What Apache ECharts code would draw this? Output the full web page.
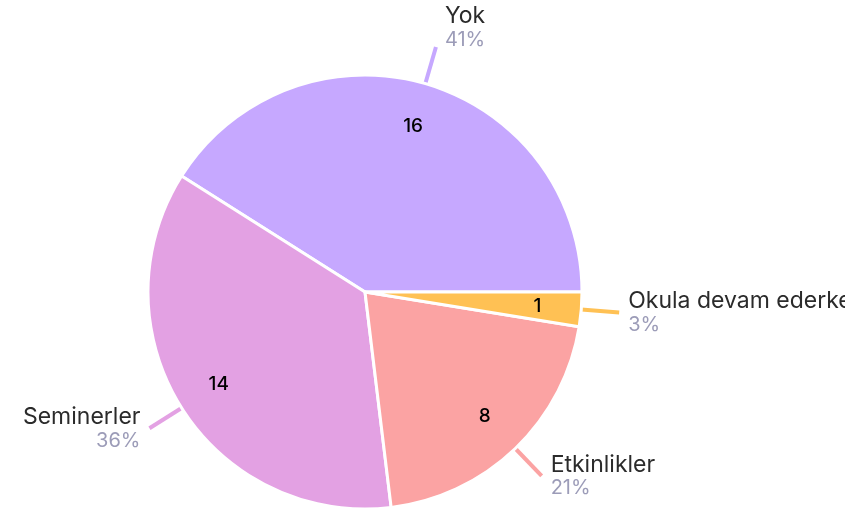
<!DOCTYPE html>
<html>
    <head>
        <meta charset="utf-8">
        <script src="https://cdn.jsdelivr.net/npm/echarts@6/dist/echarts.min.js"></script>
        <style>
            html, body { margin: 0; padding: 0; background: #fff; }
            #main { width: 845px; height: 513px; overflow: hidden; }
        </style>
    </head>
    <body>
        <div id="main"></div>
        <script>

        var names = ['Yok', 'Seminerler', 'Etkinlikler', 'Okula devam ederken'];
        var values = [16, 14, 8, 1];
        var colors = ['#c6a8ff', '#e3a1e3', '#fba3a3', '#ffc154'];

        var total = values.reduce(function (a, b) { return a + b; }, 0);

        var data = names.map(function (n, i) {
            var item = {
                name: n,
                value: values[i],
                itemStyle: { color: colors[i] },
                labelLine: { lineStyle: { color: colors[i] } }
            };
            // the top label sits a bit higher than the others
            if (i === 0) {
                item.label = { padding: [0, 0, 40, 0] };
            }
            return item;
        });

        var font = 'Inter, "Noto Sans", sans-serif';

        var option = {
            backgroundColor: '#fff',
            animation: false,
            series: [
                {
                    type: 'pie',
                    center: [365, 292],
                    radius: 217,
                    startAngle: 0,
                    clockwise: false,
                    itemStyle: {
                        borderColor: '#fff',
                        borderWidth: 3
                    },
                    label: {
                        show: true,
                        position: 'outside',
                        alignTo: 'none',
                        overflow: 'none',
                        distanceToLabelLine: 9,
                        formatter: function (p) {
                            return '{n|' + p.name + '}\n{p|' + Math.round(p.value / total * 100) + '%}';
                        },
                        rich: {
                            n: { fontFamily: font, fontSize: 23, color: '#2b2b2b', lineHeight: 25 },
                            p: { fontFamily: font, fontSize: 20, color: '#9c9cb8', lineHeight: 22 }
                        }
                    },
                    labelLine: {
                        show: true,
                        length: 38,
                        length2: 0,
                        smooth: false,
                        lineStyle: { width: 4 }
                    },
                    data: data
                },
                {
                    type: 'pie',
                    center: [365, 292],
                    radius: [148, 192],
                    startAngle: 0,
                    clockwise: false,
                    silent: true,
                    itemStyle: { color: 'rgba(0,0,0,0)' },
                    label: {
                        show: true,
                        position: 'inside',
                        formatter: '{c}',
                        fontFamily: font,
                        fontSize: 19,
                        fontWeight: 500,
                        color: '#000'
                    },
                    labelLine: { show: false },
                    data: names.map(function (n, i) {
                        return { name: n, value: values[i] };
                    })
                }
            ]
        };

        var myChart = echarts.init(document.getElementById('main'));
        myChart.setOption(option);

        </script>
    </body>
</html>
